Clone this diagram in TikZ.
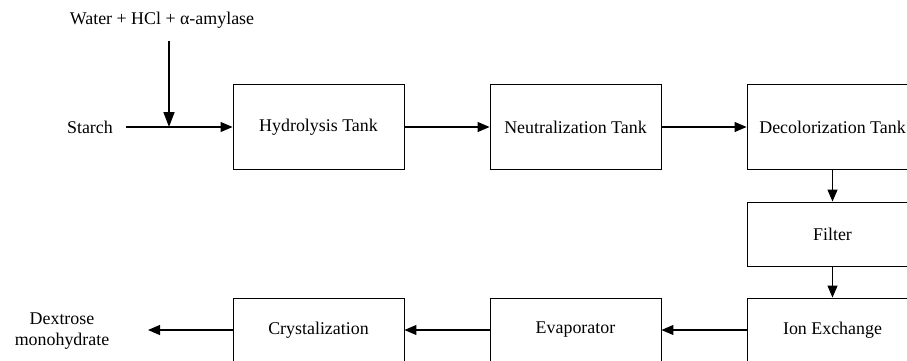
\documentclass[tikz,border=0pt]{standalone}
\usepackage{fontspec}
\setmainfont{Liberation Serif}
\usetikzlibrary{arrows.meta}
\begin{document}
\begin{tikzpicture}[x=1pt,y=1pt,
  font=\fontsize{17.9}{21.5}\selectfont,
  box/.style={draw, line width=0.9pt, minimum width=171pt, inner sep=0pt},
  tallbox/.style={box, minimum height=85pt},
  shortbox/.style={box, minimum height=64pt},
  lbl/.style={inner sep=0pt},
  flow/.style={line width=1.1pt, -{Triangle[length=12pt,width=10pt]}},
  feed/.style={line width=1.5pt, -{Triangle[length=15pt,width=11pt]}}]
\clip (0,0) rectangle (907,-360);
\node[tallbox] (hyd) at (318.5,-127) {Hydrolysis Tank};
\node[tallbox] (neu) at (575.5,-127) {Neutralization Tank};
\node[tallbox] (dec) at (832.5,-127) {Decolorization Tank};
\node[shortbox] (filt) at (832.5,-234) {Filter};
\node[shortbox] (ion) at (832.5,-330) {Ion Exchange};
\node[shortbox] (eva) at (575.5,-330) {Evaporator};
\node[shortbox] (cry) at (318.5,-330) {Crystalization};
\node[lbl, anchor=east, inner xsep=13pt] (starch) at (126,-127) {Starch};
\node[lbl] (water) at (162,-20) {Water + HCl + α-amylase};
\node[lbl, align=center] (dex) at (62,-331) {Dextrose\\monohydrate};
\coordinate (wtop) at (169,-41);
\coordinate (junc) at (169,-127);
\coordinate (dexend) at (148,-330);
\draw[feed] (wtop) -- (junc);
\draw[flow] (starch.east) -- (hyd.west);
\draw[flow] (hyd) -- (neu);
\draw[flow] (neu) -- (dec);
\draw[flow] (dec) -- (filt);
\draw[flow] (filt) -- (ion);
\draw[flow] (ion) -- (eva);
\draw[flow] (eva) -- (cry);
\draw[flow] (cry.west) -- (dexend);
\end{tikzpicture}
\end{document}
